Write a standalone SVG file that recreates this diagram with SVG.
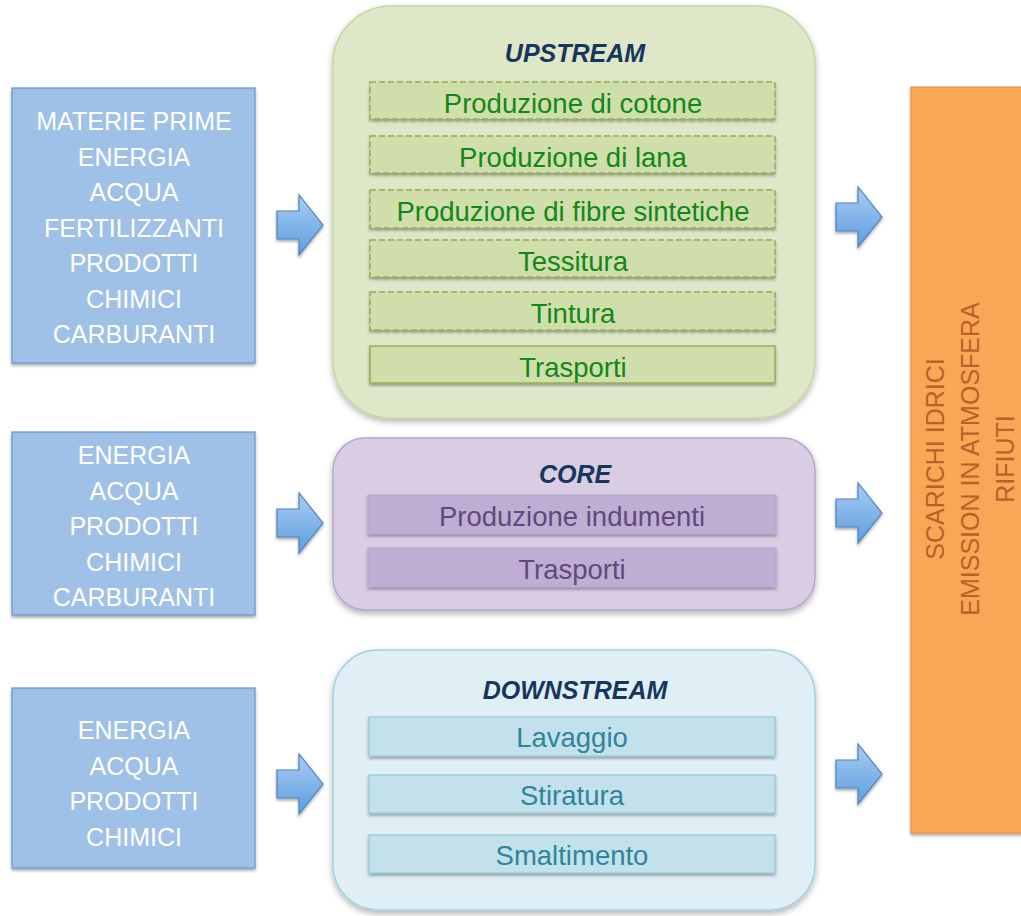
<svg xmlns="http://www.w3.org/2000/svg" width="1021" height="916" viewBox="0 0 1021 916">
<defs>
<style>
.inbox{fill:#9fc1e8;stroke:#6f99cf;stroke-width:1.3}
.intext{font-family:"Liberation Sans",Arial,sans-serif;font-size:25px;fill:#ffffff;text-anchor:middle}
.title{font-family:"Liberation Sans",Arial,sans-serif;font-size:25px;font-weight:bold;font-style:italic;fill:#17365d;text-anchor:middle}
.item{font-family:"Liberation Sans",Arial,sans-serif;font-size:27.5px;text-anchor:middle}
.up{fill:#cfdeaa;stroke:#8fae4f;stroke-width:1.4;stroke-dasharray:6 3}
.upsolid{fill:#cfdeaa;stroke:#8fae4d;stroke-width:1.4}
.uptext{fill:#12871a}
.co{fill:#bfaed3;stroke:#b3a2c8;stroke-width:0.8}
.cotext{fill:#5f4a7b}
.dn{fill:#c2e1ea;stroke:#99cadb;stroke-width:1.3}
.dntext{fill:#31849b}
.outtext{font-family:"Liberation Sans",Arial,sans-serif;font-size:25px;fill:#bd6028;text-anchor:middle}
.arrow{fill:url(#ag);stroke:#4f81bd;stroke-width:1.2;stroke-linejoin:miter}
</style>
<linearGradient id="ag" x1="0" y1="0" x2="0" y2="1">
<stop offset="0" stop-color="#a9cdf4"/>
<stop offset="1" stop-color="#5d9ddd"/>
</linearGradient>
<filter id="sh" x="-10%" y="-10%" width="120%" height="130%">
<feDropShadow dx="0" dy="2" stdDeviation="1.5" flood-color="#000" flood-opacity="0.35"/>
</filter>
<filter id="shbig" x="-10%" y="-10%" width="120%" height="130%">
<feDropShadow dx="0" dy="3" stdDeviation="3" flood-color="#000" flood-opacity="0.3"/>
</filter>
</defs>
<rect width="1021" height="916" fill="#ffffff"/>

<g id="input1">
<rect class="inbox" x="12" y="88" width="243" height="275" filter="url(#sh)"/>
<text class="intext" x="134" y="130">MATERIE PRIME</text>
<text class="intext" x="134" y="165.5">ENERGIA</text>
<text class="intext" x="134" y="201">ACQUA</text>
<text class="intext" x="134" y="236.5">FERTILIZZANTI</text>
<text class="intext" x="134" y="272">PRODOTTI</text>
<text class="intext" x="134" y="307.5">CHIMICI</text>
<text class="intext" x="134" y="343">CARBURANTI</text>
</g>
<g id="input2">
<rect class="inbox" x="12" y="432" width="243" height="183" filter="url(#sh)"/>
<text class="intext" x="134" y="464">ENERGIA</text>
<text class="intext" x="134" y="499.5">ACQUA</text>
<text class="intext" x="134" y="535">PRODOTTI</text>
<text class="intext" x="134" y="570.5">CHIMICI</text>
<text class="intext" x="134" y="606">CARBURANTI</text>
</g>
<g id="input3">
<rect class="inbox" x="12" y="688" width="243" height="180" filter="url(#sh)"/>
<text class="intext" x="134" y="739">ENERGIA</text>
<text class="intext" x="134" y="774.5">ACQUA</text>
<text class="intext" x="134" y="810">PRODOTTI</text>
<text class="intext" x="134" y="845.5">CHIMICI</text>
</g>

<g id="upstream">
<rect x="333" y="6" width="482" height="412" rx="58" fill="#dee8c8" stroke="#c4d79e" stroke-width="1.5" filter="url(#shbig)"/>
<text class="title" x="575" y="62">UPSTREAM</text>
<rect class="up" x="370" y="82" width="405" height="37" filter="url(#sh)"/>
<text class="item uptext" x="573" y="113">Produzione di cotone</text>
<rect class="up" x="370" y="136" width="405" height="37" filter="url(#sh)"/>
<text class="item uptext" x="573" y="167">Produzione di lana</text>
<rect class="up" x="370" y="190" width="405" height="38" filter="url(#sh)"/>
<text class="item uptext" x="573" y="221">Produzione di fibre sintetiche</text>
<rect class="up" x="370" y="240" width="405" height="37" filter="url(#sh)"/>
<text class="item uptext" x="573" y="271">Tessitura</text>
<rect class="up" x="370" y="292" width="405" height="38" filter="url(#sh)"/>
<text class="item uptext" x="573" y="323">Tintura</text>
<rect class="upsolid" x="370" y="346" width="405" height="37" filter="url(#sh)"/>
<text class="item uptext" x="573" y="377">Trasporti</text>
</g>

<g id="core">
<rect x="333" y="438" width="482" height="172" rx="32" fill="#d8cde3" stroke="#b7a7cb" stroke-width="1.5" filter="url(#shbig)"/>
<text class="title" x="575" y="483">CORE</text>
<rect class="co" x="368" y="495" width="408" height="39" filter="url(#sh)"/>
<text class="item cotext" x="572" y="526">Produzione indumenti</text>
<rect class="co" x="368" y="548" width="408" height="39" filter="url(#sh)"/>
<text class="item cotext" x="572" y="579">Trasporti</text>
</g>

<g id="downstream">
<rect x="333" y="650" width="482" height="260" rx="45" fill="#e0eff6" stroke="#a3d0e0" stroke-width="1.5" filter="url(#shbig)"/>
<text class="title" x="575" y="699">DOWNSTREAM</text>
<rect class="dn" x="369" y="717" width="406" height="39" filter="url(#sh)"/>
<text class="item dntext" x="572" y="747">Lavaggio</text>
<rect class="dn" x="369" y="775" width="406" height="38" filter="url(#sh)"/>
<text class="item dntext" x="572" y="805">Stiratura</text>
<rect class="dn" x="369" y="835" width="406" height="38" filter="url(#sh)"/>
<text class="item dntext" x="572" y="865">Smaltimento</text>
</g>

<g id="outputs">
<rect x="911" y="87" width="120" height="746" fill="#f8a757" stroke="#e69447" stroke-width="1.2" filter="url(#sh)"/>
<text class="outtext" transform="translate(944,459) rotate(-90)">SCARICHI IDRICI</text>
<text class="outtext" transform="translate(979,459) rotate(-90)">EMISSION IN ATMOSFERA</text>
<text class="outtext" transform="translate(1014,459) rotate(-90)">RIFIUTI</text>
</g>

<g id="connectors">
<path class="arrow" filter="url(#sh)" d="M277,211 H299 V195 L323,225 L299,255 V239 H277 Z"/>
<path class="arrow" filter="url(#sh)" d="M277,509 H299 V493 L323,523 L299,553 V537 H277 Z"/>
<path class="arrow" filter="url(#sh)" d="M277,770 H299 V754 L323,784 L299,814 V798 H277 Z"/>
<path class="arrow" filter="url(#sh)" d="M836,203 H858 V187 L882,217 L858,247 V231 H836 Z"/>
<path class="arrow" filter="url(#sh)" d="M836,499 H858 V483 L882,513 L858,543 V527 H836 Z"/>
<path class="arrow" filter="url(#sh)" d="M836,760 H858 V744 L882,774 L858,804 V788 H836 Z"/>
</g>
</svg>
